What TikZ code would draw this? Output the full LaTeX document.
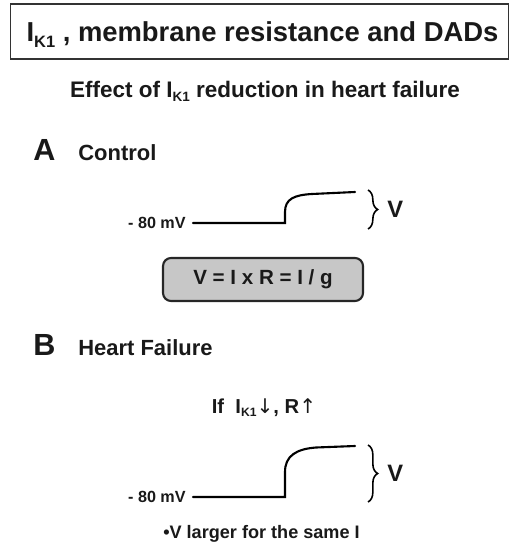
\documentclass[tikz,border=0pt]{standalone}
\usepackage{fontspec}
\setmainfont{Liberation Sans}
\newfontfamily\arrowfont{DejaVu Sans}
\usetikzlibrary{positioning, decorations.pathreplacing}

\newcommand{\ikone}{I\raisebox{-0.35ex}{\scalebox{0.6}{K1}}}
\newcommand{\thinarrow}[1]{{\arrowfont\mdseries #1}}

\begin{document}
\begin{tikzpicture}[
    x=0.02cm, y=-0.02cm,
    every node/.style={inner sep=0pt, text=black!90},
    headbox/.style={draw=black!80, line width=0.6pt, minimum width=9.98cm, minimum height=1.1cm},
    headtext/.style={font=\bfseries\fontsize{15.6}{18}\selectfont},
    subhead/.style={font=\bfseries\fontsize{12.8}{15}\selectfont},
    panel/.style={font=\bfseries\fontsize{17.4}{20}\selectfont},
    paneltitle/.style={font=\bfseries\fontsize{12.5}{15}\selectfont},
    mv/.style={font=\bfseries\fontsize{9.2}{11}\selectfont},
    vlabel/.style={font=\bfseries\fontsize{13.5}{16}\selectfont},
    ohmbox/.style={draw=black!85, line width=1.2pt, fill=black!22, rounded corners=0.16cm,
                   minimum width=4cm, minimum height=0.86cm, font=\bfseries\fontsize{11.7}{14}\selectfont},
    note/.style={font=\bfseries\fontsize{11.5}{14}\selectfont},
    trace/.style={line width=1.2pt, line cap=round},
    vbrace/.style={line width=0.9pt, decorate, decoration={brace, amplitude=5.5pt}}
]
\useasboundingbox (0,0) rectangle (511,544);

% -------- Layout --------
\def\xpanel{33}
\def\xpaneltitle{78}
\def\xmv{186}
\def\xstart{193}
\def\xstep{285}
\def\xend{355}
\def\xbrace{368}

\def\ytraceA{223}
\def\ytraceB{497}

% -------- Title --------
\node[headbox] (titlebox) at (259.5,31.5) {};
\node[headtext, anchor=base] (title) at (262.5,42) {\ikone\ , membrane resistance and DADs};
\node[subhead, anchor=base] (subtitle) at (265,97) {Effect of \ikone\ reduction in heart failure};

% -------- A: Control --------
\node[panel, anchor=base west] (A) at (\xpanel,160) {A};
\node[paneltitle, anchor=base west] (control) at (\xpaneltitle,160) {Control};

\node[mv, anchor=east] (mvA) at (\xmv,\ytraceA) {- 80 mV};
\coordinate (startA) at (\xstart,\ytraceA);
\coordinate (stepA) at (\xstep,\ytraceA);
\coordinate (topA) at (\xend,192);
\draw[trace] (startA) -- (stepA) -- ++(0,-11)
    .. controls +(0,-13) and (294,195) .. (312,194) -- (topA);

\coordinate (braceAtop) at (\xbrace,190);
\coordinate (braceAbot) at (\xbrace,229);
\draw[vbrace] (braceAtop) -- (braceAbot);
\node[vlabel, anchor=west] (vA) at (387,209) {V};

\node[ohmbox] (ohm) at (263,279.5) {V = I x R = I / g};

% -------- B: Heart Failure --------
\node[panel, anchor=base west] (B) at (\xpanel,355) {B};
\node[paneltitle, anchor=base west] (hf) at (\xpaneltitle,355) {Heart Failure};

\node[note, anchor=base] (cond) at (264,413) {If\ \ \ikone\thinarrow{↓}, R\thinarrow{↑}};

\node[mv, anchor=east] (mvB) at (\xmv,\ytraceB) {- 80 mV};
\coordinate (startB) at (\xstart,\ytraceB);
\coordinate (stepB) at (\xstep,\ytraceB);
\coordinate (topB) at (\xend,446);
\draw[trace] (startB) -- (stepB) -- ++(0,-25)
    .. controls +(0,-16) and (296,449) .. (316,447.5) -- (topB);

\coordinate (braceBtop) at (\xbrace,445);
\coordinate (braceBbot) at (\xbrace,502);
\draw[vbrace] (braceBtop) -- (braceBbot);
\node[vlabel, anchor=west] (vB) at (387,473) {V};

\node[note, anchor=base, font=\bfseries\fontsize{10.3}{12}\selectfont] (larger) at (261.5,538) {•V larger for the same I};

\end{tikzpicture}
\end{document}
